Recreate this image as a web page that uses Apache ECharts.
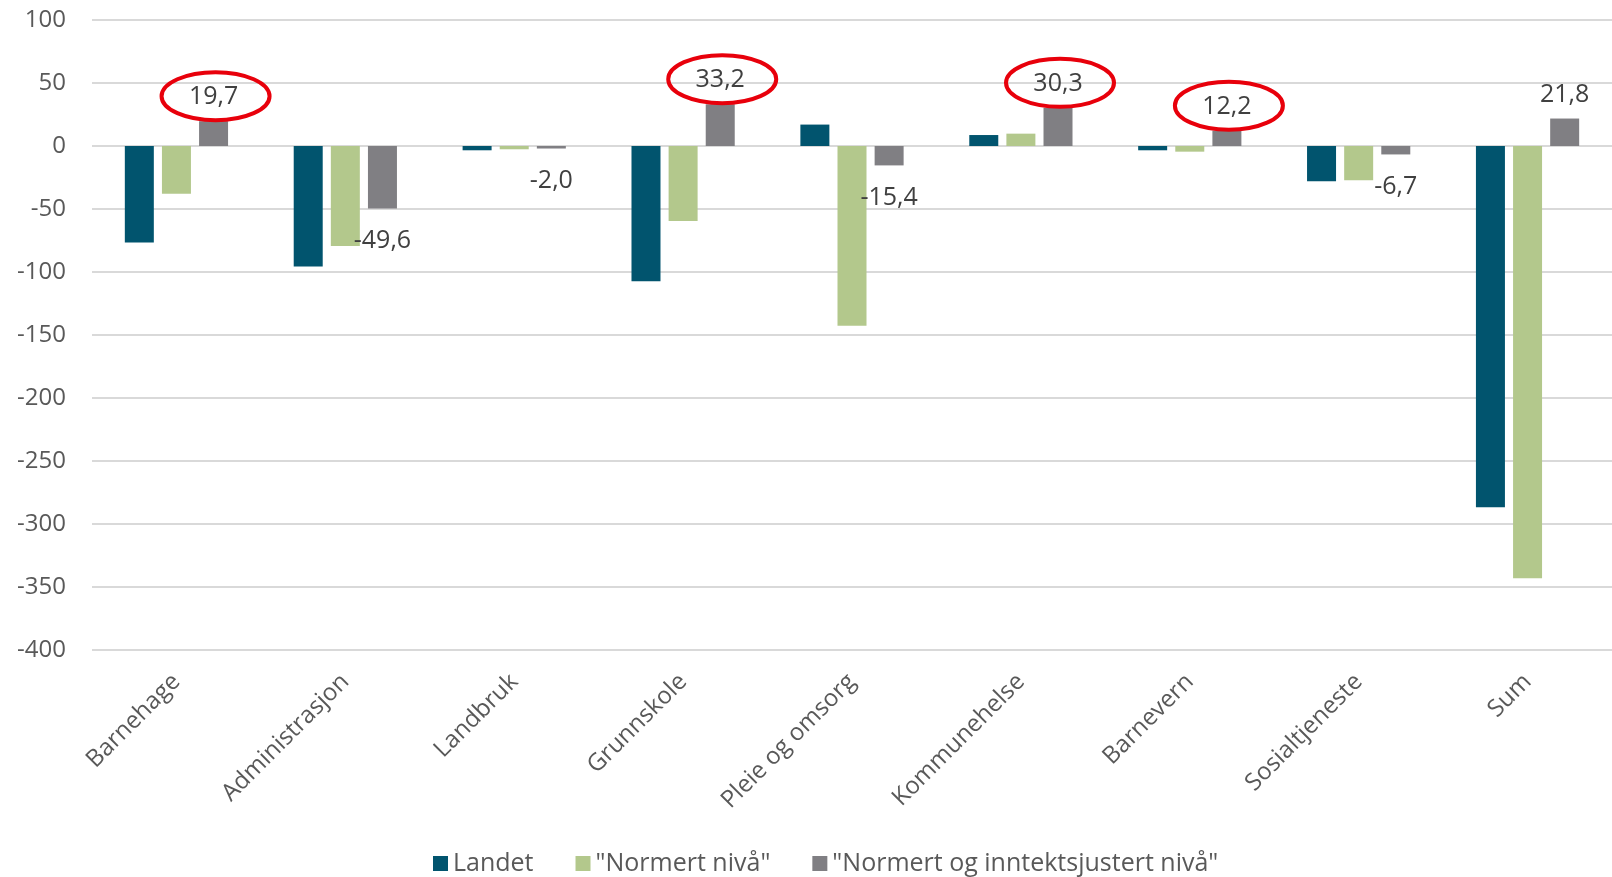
<!DOCTYPE html>
<html>
<head>
<meta charset="utf-8">
<script src="https://cdn.jsdelivr.net/npm/echarts@6/dist/echarts.min.js"></script>
<style>
html, body { margin: 0; padding: 0; background: #fff; }
#main { width: 1612px; height: 877px; }
</style>
</head>
<body>
<div id="main"></div>
<script>
// kategorier og verdier lest av figuren
var categories = ['Barnehage', 'Administrasjon', 'Landbruk', 'Grunnskole', 'Pleie og omsorg', 'Kommunehelse', 'Barnevern', 'Sosialtjeneste', 'Sum'];
var landet = [-76.5, -95.7, -3.4, -107.4, 17.0, 8.7, -3.4, -28.0, -286.8];
var normert = [-37.8, -79.3, -2.6, -59.5, -142.6, 9.8, -4.5, -27.2, -343.0];
var justert = [19.7, -49.6, -2.0, 33.2, -15.4, 30.3, 12.2, -6.7, 21.8];
var markert = [0, 3, 5, 6]; // verdier med rød ring rundt
var yTicks = [-400, 100, 50]; // min, max, intervall

var fontName = 'Open Sans';
var barW = 29, barGapPct = 0.28;
var myChart = echarts.init(document.getElementById('main'));

function fmt(v) {
	return v.toFixed(1).replace('.', ',');
}

// gråserien får etiketter, positive over og negative under
var justertData = [];
for (var i = 0; i < justert.length; i++) {
	var v = justert[i];
	justertData.push({
		value: v,
		label: {
			show: true,
			position: v >= 0 ? 'top' : 'bottom',
			distance: v >= 0 ? 0 : 8,
			formatter: function (p) { return fmt(p.value); },
			color: '#404040',
			fontSize: 25,
			fontFamily: fontName,
			lineHeight: 28,
			padding: [10, 26]
		}
	});
}

// ringene: [kategoriindeks, verdi]
var ringData = [];
for (var k = 0; k < markert.length; k++) {
	ringData.push([markert[k], justert[markert[k]]]);
}

var option = {
	animation: false,
	grid: {
		left: 92,
		right: 0,
		top: 20,
		bottom: 227
	},
	legend: {
		left: 428,
		top: 846,
		itemWidth: 15,
		itemHeight: 15,
		itemGap: 42,
		icon: 'rect',
		textStyle: { color: '#595959', fontSize: 25, fontFamily: fontName },
		data: ['Landet', '"Normert nivå"', '"Normert og inntektsjustert nivå"']
	},
	xAxis: [{
		type: 'category',
		data: categories,
		position: 'bottom',
		axisLine: { show: false, onZero: false },
		axisTick: { show: false },
		axisLabel: {
			rotate: 45,
			margin: 28,
			color: '#595959',
			fontSize: 24,
			fontFamily: fontName
		}
	}],
	yAxis: [{
		type: 'value',
		min: yTicks[0],
		max: yTicks[1],
		interval: yTicks[2],
		axisLine: { show: false },
		axisTick: { show: false },
		axisLabel: {
			margin: 26,
			color: '#595959',
			fontSize: 24,
			fontFamily: fontName
		},
		splitLine: { lineStyle: { color: '#d9d9d9', width: 2 } }
	}],
	series: [{
		name: 'Landet',
		type: 'bar',
		data: landet,
		barWidth: barW,
		barGap: barGapPct * 100 + '%',
		itemStyle: { color: '#01546e' }
	}, {
		name: '"Normert nivå"',
		type: 'bar',
		data: normert,
		barWidth: barW,
		barGap: barGapPct * 100 + '%',
		itemStyle: { color: '#b3c88c' }
	}, {
		name: '"Normert og inntektsjustert nivå"',
		type: 'bar',
		data: justertData,
		barWidth: barW,
		barGap: barGapPct * 100 + '%',
		itemStyle: { color: '#807f83' }
	}, {
		name: 'ring',
		type: 'custom',
		z: 10,
		silent: true,
		data: ringData,
		renderItem: function (params, api) {
			var pt = api.coord([api.value(0), api.value(1)]);
			// grå stolpe ligger en stolpebredde + mellomrom til høyre for midten
			var cx = pt[0] + barW * (1 + barGapPct);
			return {
				type: 'ellipse',
				shape: { cx: cx + 2, cy: pt[1] - 25, rx: 54, ry: 24 },
				style: { fill: 'none', stroke: '#e8000b', lineWidth: 4 }
			};
		}
	}]
};
myChart.setOption(option);
</script>
</body>
</html>
